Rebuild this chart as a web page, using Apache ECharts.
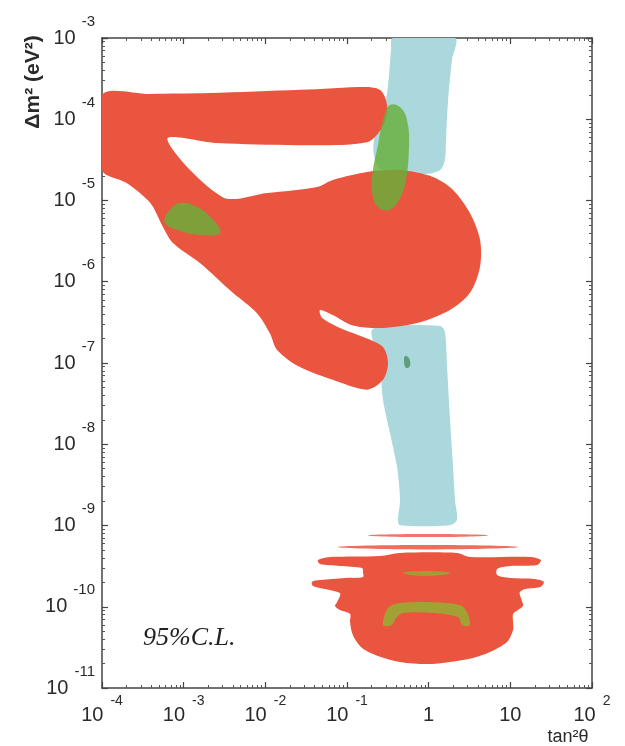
<!DOCTYPE html>
<html>
<head>
<meta charset="utf-8">
<script src="https://cdn.jsdelivr.net/npm/echarts@6/dist/echarts.min.js"></script>
<style>
html,body{margin:0;padding:0;background:#fff;}
#chart{width:625px;height:746px;}
</style>
</head>
<body>
<div id="chart"></div>
<script>
// Axis ranges and tick labels
const xRange = [1e-4, 1e2];
const yRange = [1e-11, 1e-3];
const xTickBase = ['10', '10', '10', '10', '1', '10', '10'];
const xTickExp = ['-4', '-3', '-2', '-1', '', '', '2'];
const yTickExp = ['-11', '-10', '-9', '-8', '-7', '-6', '-5', '-4', '-3'];
const xTitle = 'tan²θ';
const yTitle = 'Δm² (eV²)';
const clText = '95%C.L.';

// Allowed regions (tan²θ, Δm²) outlines
const blueUpper = [[0.366,1e-3],[2.1,1e-3],[1.93,5.4e-4],[1.73,1.73e-4],[1.63,5.6e-5],[1.58,3.15e-5],[1.38,2.37e-5],[0.90,2.1e-5],[0.446,2.18e-5],[0.253,2.5e-5],[0.214,3.6e-5],[0.214,5.6e-5],[0.253,9.8e-5],[0.30,1.73e-4],[0.327,3.5e-4],[0.346,7.1e-4]];
const blueLower = [[0.202,2.55e-7],[0.253,2.85e-7],[1.38,2.85e-7],[1.58,2.41e-7],[1.68,8.9e-8],[1.82,2.16e-8],[1.99,5.25e-9],[2.1,2.06e-9],[2.22,1.17e-9],[1.82,1.01e-9],[0.446,1.01e-9],[0.421,1.17e-9],[0.446,2.06e-9],[0.41,5.25e-9],[0.336,1.37e-8],[0.276,3.5e-8],[0.253,8.9e-8],[0.202,2.09e-7]];
const redMain = [[1.0e-4,2.0e-4],[3.9e-4,2.05e-4],[2.1e-3,2.1e-4],[2.65e-2,2.3e-4],[0.176,2.5e-4],[0.253,2.3e-4],[0.30,1.73e-4],[0.309,1.19e-4],[0.268,7.8e-5],[0.176,5.2e-5],[2.65e-2,4.8e-5],[2.6e-3,5.1e-5],[6.3e-4,5.7e-5],[3.0e-3,1.1e-5],[1.05e-2,1.24e-5],[4.3e-2,1.47e-5],[6.7e-2,1.79e-5],[0.176,2.24e-5],[0.446,2.37e-5],[1.13,1.95e-5],[1.99,1.35e-5],[3.2,7.0e-6],[4.25,3.3e-6],[4.25,1.52e-6],[3.2,7.3e-7],[1.82,4.5e-7],[0.72,3.1e-7],[0.276,2.7e-7],[0.118,2.9e-7],[6.7e-2,3.9e-7],[4.67e-2,4.5e-7],[4.94e-2,3.6e-7],[8.2e-2,2.7e-7],[0.176,2.0e-7],[0.276,1.57e-7],[0.318,1.0e-7],[0.276,6.2e-8],[0.176,4.7e-8],[6.7e-2,6.2e-8],[2.65e-2,8.9e-8],[1.39e-2,1.45e-7],[1.14e-2,2.3e-7],[7.9e-3,4.1e-7],[4.0e-3,7.3e-7],[1.58e-3,1.7e-6],[7.4e-4,3.0e-6],[5.6e-4,4.7e-6],[3.9e-4,9.3e-6],[2.0e-4,1.64e-5],[1.0e-4,2.37e-5]];
const redLow = [[0.446,4.59e-10],[2.22,4.59e-10],[3.2,4.09e-10],[17.4,4.09e-10],[23.7,3.76e-10],[21.2,3.27e-10],[9.9,3.18e-10],[6.9,2.92e-10],[6.9,2.46e-10],[9.9,2.26e-10],[20.0,2.2e-10],[25.8,2.02e-10],[23.1,1.75e-10],[15.1,1.65e-10],[13.1,1.52e-10],[13.1,1.40e-10],[13.9,1.18e-10],[14.3,1.02e-10],[12.4,9.1e-11],[10.8,8.15e-11],[10.8,6.49e-11],[10.8,5.18e-11],[9.1,3.68e-11],[5.64,2.77e-11],[3.49,2.34e-11],[1.82,2.09e-11],[0.953,1.97e-11],[0.446,2.09e-11],[0.239,2.48e-11],[0.153,3.10e-11],[0.118,4.49e-11],[0.109,6.49e-11],[0.109,8.15e-11],[0.082,9.1e-11],[0.0713,1.02e-10],[0.0754,1.14e-10],[0.082,1.36e-10],[0.082,1.48e-10],[0.0538,1.65e-10],[0.0384,1.80e-10],[0.0372,2.02e-10],[0.0467,2.13e-10],[0.0945,2.26e-10],[0.157,2.32e-10],[0.157,2.68e-10],[0.153,3.0e-10],[0.082,3.18e-10],[0.0467,3.36e-10],[0.0442,3.76e-10],[0.0619,4.09e-10],[0.253,4.22e-10]];
const redStripeA = [[0.181,7.55e-10],[0.98,7.85e-10],[5.3,7.55e-10],[0.98,7.2e-10]];
const redStripeB = [[0.0776,5.43e-10],[0.98,5.75e-10],[12.4,5.43e-10],[0.98,5.07e-10]];
const greenUpper = [[0.336,1.5e-4],[0.471,1.34e-4],[0.558,8.5e-5],[0.574,4.55e-5],[0.527,1.79e-5],[0.434,1.01e-5],[0.318,7.6e-6],[0.233,8.55e-6],[0.202,1.35e-5],[0.208,2.37e-5],[0.239,4.8e-5],[0.276,9.8e-5]];
const greenIsland = [[6.3e-4,7.0e-6],[9.0e-4,9.3e-6],[1.46e-3,8.3e-6],[2.3e-3,5.75e-6],[2.8e-3,3.98e-6],[1.58e-3,3.76e-6],[8.3e-4,4.33e-6],[5.9e-4,5.28e-6]];
const greenDot = [[0.513,1.22e-7],[0.574,1.15e-7],[0.59,9.2e-8],[0.527,8.7e-8],[0.50,1.03e-7]];
const greenStripe = [[0.485,2.6e-10],[0.90,2.75e-10],[1.82,2.6e-10],[0.90,2.39e-10]];
const greenArc = [[0.276,5.96e-11],[0.318,9.66e-11],[0.446,1.11e-10],[1.13,1.14e-10],[2.42,1.05e-10],[2.94,8.6e-11],[3.2,5.96e-11],[2.56,5.96e-11],[2.29,7.48e-11],[1.13,8.4e-11],[0.485,8.4e-11],[0.398,7.28e-11],[0.356,5.96e-11]];

const RED = '#E9553E', BLUE = '#ABD8DC', GREEN = 'rgba(104,176,58,0.82)';

function polySeries(name, pts, fill, smooth) {
  return {
    type: 'custom', name: name, coordinateSystem: 'cartesian2d', clip: true,
    silent: true, animation: false, data: pts, encode: { x: 0, y: 1 },
    renderItem: function (params, api) {
      if (params.dataIndex !== 0) return;
      const points = pts.map(function (p) { return api.coord(p); });
      return { type: 'polygon', shape: { points: points, smooth: smooth }, style: { fill: fill } };
    }
  };
}

const axisLineStyle = { show: true, lineStyle: { color: '#444', width: 1.5 } };
const tickStyle = { show: true, inside: true, length: 6, lineStyle: { color: '#444', width: 1.2 } };
const minorStyle = { show: true, splitNumber: 9, length: 3, lineStyle: { color: '#555', width: 1 } };

function xLabel(v) {
  const i = Math.round(Math.log10(v)) + 4;
  const e = xTickExp[i];
  return e ? '{b|' + xTickBase[i] + '}{s|' + e + '}' : '{b|' + xTickBase[i] + '}';
}
function yLabel(v) {
  const i = Math.round(Math.log10(v)) + 11;
  return '{b|10}{s|' + yTickExp[i] + '}';
}

const chart = echarts.init(document.getElementById('chart'), null, { renderer: 'canvas' });
chart.setOption({
  backgroundColor: '#fff',
  animation: false,
  grid: { left: 102, right: 33, top: 38, bottom: 58 },
  xAxis: [
    { type: 'log', logBase: 10, min: xRange[0], max: xRange[1], splitNumber: 6, position: 'bottom',
      axisLine: axisLineStyle, axisTick: tickStyle, minorTick: minorStyle, splitLine: { show: false },
      axisLabel: { margin: 6, formatter: xLabel, color: '#2a2a2a',
        rich: { b: { fontFamily: 'Liberation Sans', fontSize: 20, lineHeight: 42, verticalAlign: 'middle', color: '#2a2a2a' },
                s: { fontFamily: 'Liberation Sans', fontSize: 14, lineHeight: 14, verticalAlign: 'top', padding: [0, 0, 0, 7], color: '#2a2a2a' } } } },
    { type: 'log', logBase: 10, min: xRange[0], max: xRange[1], splitNumber: 6, position: 'top',
      axisLine: axisLineStyle, axisTick: tickStyle, minorTick: minorStyle, splitLine: { show: false },
      axisLabel: { show: false } }
  ],
  yAxis: [
    { type: 'log', logBase: 10, min: yRange[0], max: yRange[1], splitNumber: 8, position: 'left',
      axisLine: axisLineStyle, axisTick: tickStyle, minorTick: minorStyle, splitLine: { show: false },
      axisLabel: { margin: 7, formatter: yLabel, color: '#2a2a2a',
        rich: { b: { fontFamily: 'Liberation Sans', fontSize: 20, lineHeight: 48, verticalAlign: 'middle', color: '#2a2a2a' },
                s: { fontFamily: 'Liberation Sans', fontSize: 15, lineHeight: 14, verticalAlign: 'top', padding: [0, 0, 0, 6], color: '#2a2a2a' } } } },
    { type: 'log', logBase: 10, min: yRange[0], max: yRange[1], splitNumber: 8, position: 'right',
      axisLine: axisLineStyle, axisTick: tickStyle, minorTick: minorStyle, splitLine: { show: false },
      axisLabel: { show: false } }
  ],
  series: [
    polySeries('blueUpper', blueUpper, BLUE, 0.3),
    polySeries('blueLower', blueLower, BLUE, 0.3),
    polySeries('redMain', redMain, RED, 0.3),
    polySeries('redLow', redLow, RED, 0.3),
    polySeries('redStripeA', redStripeA, 'rgba(233,85,62,0.8)', 0.5),
    polySeries('redStripeB', redStripeB, 'rgba(233,85,62,0.85)', 0.5),
    polySeries('greenUpper', greenUpper, GREEN, 0.4),
    polySeries('greenIsland', greenIsland, GREEN, 0.4),
    polySeries('greenDot', greenDot, '#5E9E7E', 0.4),
    polySeries('greenStripe', greenStripe, 'rgba(150,170,50,0.8)', 0.5),
    polySeries('greenArc', greenArc, 'rgba(150,175,50,0.85)', 0.3)
  ],
  graphic: [
    { type: 'text', x: 33, y: 82, rotation: Math.PI / 2,
      style: { text: yTitle, fill: '#2a2a2a', font: 'bold 21px "Liberation Sans"', align: 'center', verticalAlign: 'middle' } },
    { type: 'text', x: 568, y: 737,
      style: { text: xTitle, fill: '#2a2a2a', font: '18px "Liberation Sans"', align: 'center', verticalAlign: 'middle' } },
    { type: 'text', x: 143, y: 638,
      style: { text: clText, fill: '#222', font: 'italic 26px "Liberation Serif"', align: 'left', verticalAlign: 'middle' } }
  ]
});
</script>
</body>
</html>
